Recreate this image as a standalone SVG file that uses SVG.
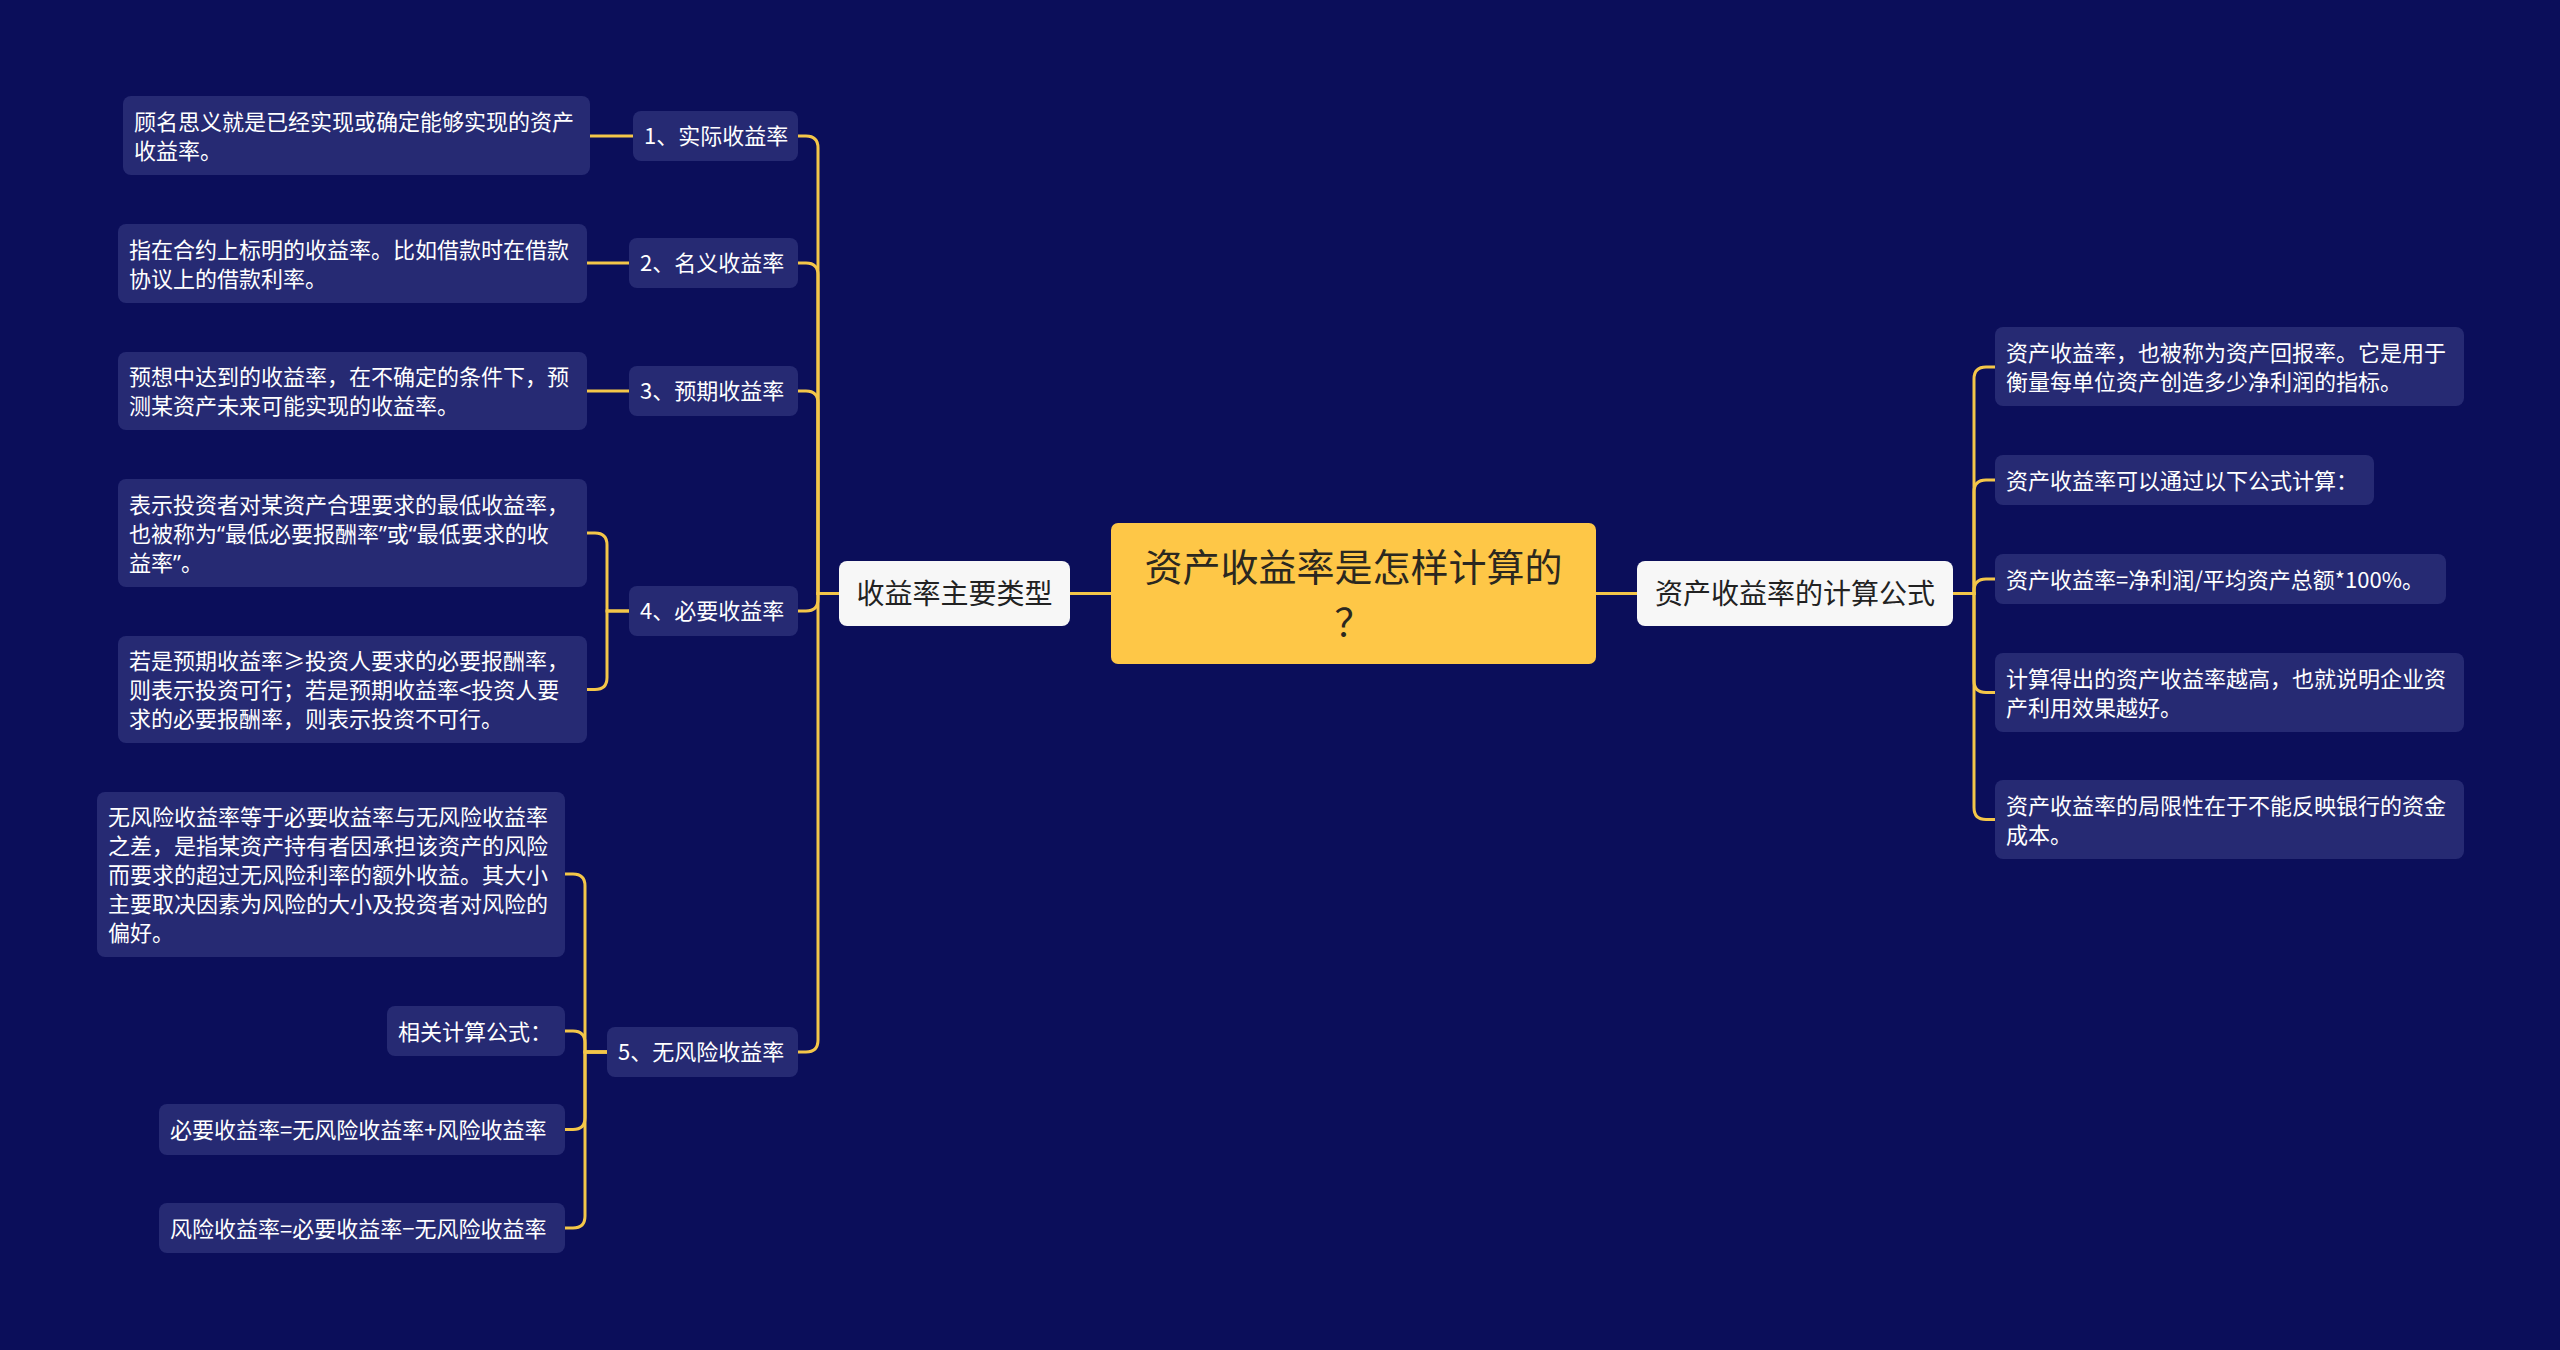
<svg xmlns="http://www.w3.org/2000/svg" width="2560" height="1350" viewBox="0 0 2560 1350">
<style>
.bg{fill:#0b0e5a}
.leaf{fill:#262a73}
.lt{font-family:"Noto Sans CJK SC","Noto Sans",sans-serif;font-size:22px;fill:#ffffff}
.q{font-family:"Noto Sans","Liberation Sans",sans-serif}
.l1{fill:#f7f7f7}
.l1t{font-family:"Noto Sans CJK SC","Noto Sans",sans-serif;font-size:28px;fill:#222222;text-anchor:middle}
.ct{font-family:"Noto Sans CJK SC","Noto Sans",sans-serif;font-size:38px;fill:#2b2820;text-anchor:middle}
.c{fill:none;stroke:#f4c649;stroke-width:3;stroke-linecap:round}
</style>
<rect class="bg" x="0" y="0" width="2560" height="1350"/>
<g id="connectors">
<path class="c" d="M1111,593.5 H1070"/>
<path class="c" d="M1596,593.5 H1637"/>
<path class="c" d="M839,593.5 H818 V148 Q818,136 806,136 H798"/>
<path class="c" d="M839,593.5 H818 V275 Q818,263 806,263 H798"/>
<path class="c" d="M839,593.5 H818 V403 Q818,391 806,391 H798"/>
<path class="c" d="M839,593.5 H818 V599 Q818,611 806,611 H798"/>
<path class="c" d="M839,593.5 H818 V1040 Q818,1052 806,1052 H798"/>
<path class="c" d="M633,136 H590"/>
<path class="c" d="M629,263 H587"/>
<path class="c" d="M629,391 H587"/>
<path class="c" d="M629,611 H607 V545 Q607,533 595,533 H587"/>
<path class="c" d="M629,611 H607 V677.5 Q607,689.5 595,689.5 H587"/>
<path class="c" d="M607,1052 H585 V886 Q585,874 573,874 H565"/>
<path class="c" d="M607,1052 H585 V1043 Q585,1031 573,1031 H565"/>
<path class="c" d="M607,1052 H585 V1117.5 Q585,1129.5 573,1129.5 H565"/>
<path class="c" d="M607,1052 H585 V1216 Q585,1228 573,1228 H565"/>
<path class="c" d="M1953,593.5 H1974 V379 Q1974,367 1986,367 H1995"/>
<path class="c" d="M1953,593.5 H1974 V492 Q1974,480 1986,480 H1995"/>
<path class="c" d="M1953,593.5 H1974 V591 Q1974,579 1986,579 H1995"/>
<path class="c" d="M1953,593.5 H1974 V680.5 Q1974,692.5 1986,692.5 H1995"/>
<path class="c" d="M1953,593.5 H1974 V807.5 Q1974,819.5 1986,819.5 H1995"/>
</g>
<g id="center">
<rect x="1111" y="523" width="485" height="141" rx="7" fill="#fec747"/>
<text class="ct" x="1353.5" y="581">资产收益率是怎样计算的</text>
<text class="ct" x="1353.5" y="636">？</text>
</g>
<g id="types">
<rect class="l1" x="839" y="561" width="231" height="65" rx="8"/>
<text class="l1t" x="954.5" y="604">收益率主要类型</text>
</g>
<g id="formula">
<rect class="l1" x="1637" y="561" width="316" height="65" rx="8"/>
<text class="l1t" x="1795" y="604">资产收益率的计算公式</text>
</g>
<g id="n1">
<rect class="leaf" x="633" y="111" width="165" height="50" rx="8"/>
<text class="lt" x="644" y="144">1、实际收益率</text>
</g>
<g id="n2">
<rect class="leaf" x="629" y="238" width="169" height="50" rx="8"/>
<text class="lt" x="640" y="271">2、名义收益率</text>
</g>
<g id="n3">
<rect class="leaf" x="629" y="366" width="169" height="50" rx="8"/>
<text class="lt" x="640" y="399">3、预期收益率</text>
</g>
<g id="n4">
<rect class="leaf" x="629" y="586" width="169" height="50" rx="8"/>
<text class="lt" x="640" y="619">4、必要收益率</text>
</g>
<g id="n5">
<rect class="leaf" x="607" y="1027" width="191" height="50" rx="8"/>
<text class="lt" x="618" y="1060">5、无风险收益率</text>
</g>
<g id="leaf1">
<rect class="leaf" x="123" y="96" width="467" height="79" rx="8"/>
<text class="lt" x="134" y="129.5">顾名思义就是已经实现或确定能够实现的资产</text>
<text class="lt" x="134" y="158.5">收益率。</text>
</g>
<g id="leaf2">
<rect class="leaf" x="118" y="224" width="469" height="79" rx="8"/>
<text class="lt" x="129" y="257.5">指在合约上标明的收益率。比如借款时在借款</text>
<text class="lt" x="129" y="286.5">协议上的借款利率。</text>
</g>
<g id="leaf3">
<rect class="leaf" x="118" y="352" width="469" height="78" rx="8"/>
<text class="lt" x="129" y="385">预想中达到的收益率，在不确定的条件下，预</text>
<text class="lt" x="129" y="414">测某资产未来可能实现的收益率。</text>
</g>
<g id="leaf4a">
<rect class="leaf" x="118" y="479" width="469" height="108" rx="8"/>
<text class="lt" x="129" y="512.5">表示投资者对某资产合理要求的最低收益率，</text>
<text class="lt" x="129" y="541.5">也被称为<tspan class="q">“</tspan>最低必要报酬率<tspan class="q">”</tspan>或<tspan class="q">“</tspan>最低要求的收</text>
<text class="lt" x="129" y="570.5">益率<tspan class="q">”</tspan>。</text>
</g>
<g id="leaf4b">
<rect class="leaf" x="118" y="636" width="469" height="107" rx="8"/>
<text class="lt" x="129" y="669">若是预期收益率≥投资人要求的必要报酬率，</text>
<text class="lt" x="129" y="698">则表示投资可行；若是预期收益率&lt;投资人要</text>
<text class="lt" x="129" y="727">求的必要报酬率，则表示投资不可行。</text>
</g>
<g id="leaf5a">
<rect class="leaf" x="97" y="792" width="468" height="165" rx="8"/>
<text class="lt" x="108" y="824.5">无风险收益率等于必要收益率与无风险收益率</text>
<text class="lt" x="108" y="853.5">之差，是指某资产持有者因承担该资产的风险</text>
<text class="lt" x="108" y="882.5">而要求的超过无风险利率的额外收益。其大小</text>
<text class="lt" x="108" y="911.5">主要取决因素为风险的大小及投资者对风险的</text>
<text class="lt" x="108" y="940.5">偏好。</text>
</g>
<g id="leaf5b">
<rect class="leaf" x="387" y="1006" width="178" height="50" rx="8"/>
<text class="lt" x="398" y="1039.5">相关计算公式：</text>
</g>
<g id="leaf5c">
<rect class="leaf" x="159" y="1104" width="406" height="51" rx="8"/>
<text class="lt" x="170" y="1138">必要收益率=无风险收益率+风险收益率</text>
</g>
<g id="leaf5d">
<rect class="leaf" x="159" y="1203" width="406" height="50" rx="8"/>
<text class="lt" x="170" y="1236.5">风险收益率=必要收益率−无风险收益率</text>
</g>
<g id="r1">
<rect class="leaf" x="1995" y="327" width="469" height="79" rx="8"/>
<text class="lt" x="2006" y="361">资产收益率，也被称为资产回报率。它是用于</text>
<text class="lt" x="2006" y="390">衡量每单位资产创造多少净利润的指标。</text>
</g>
<g id="r2">
<rect class="leaf" x="1995" y="455" width="379" height="50" rx="8"/>
<text class="lt" x="2006" y="488.5">资产收益率可以通过以下公式计算：</text>
</g>
<g id="r3">
<rect class="leaf" x="1995" y="554" width="451" height="50" rx="8"/>
<text class="lt" x="2006" y="587.5">资产收益率=净利润/平均资产总额*100%。</text>
</g>
<g id="r4">
<rect class="leaf" x="1995" y="653" width="469" height="79" rx="8"/>
<text class="lt" x="2006" y="686.5">计算得出的资产收益率越高，也就说明企业资</text>
<text class="lt" x="2006" y="715.5">产利用效果越好。</text>
</g>
<g id="r5">
<rect class="leaf" x="1995" y="780" width="469" height="79" rx="8"/>
<text class="lt" x="2006" y="813.5">资产收益率的局限性在于不能反映银行的资金</text>
<text class="lt" x="2006" y="842.5">成本。</text>
</g>
</svg>
